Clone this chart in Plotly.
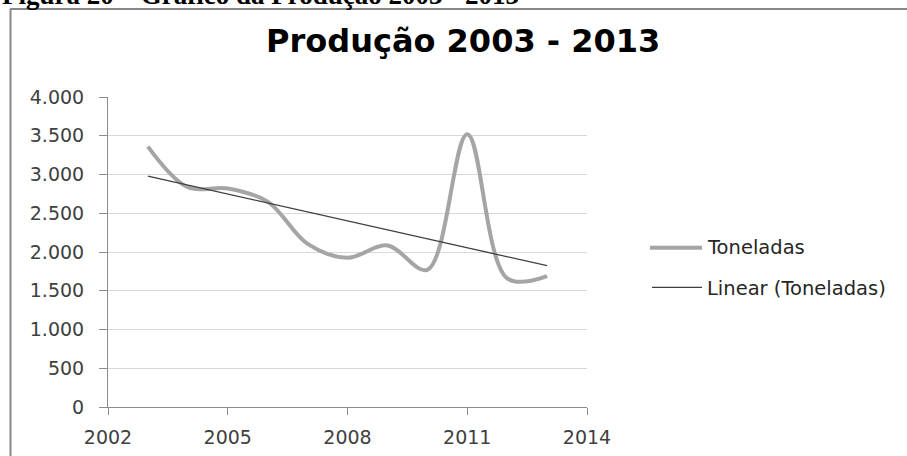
import numpy as np
import plotly.graph_objects as go

# Annual production (tonnes)
years = [2003, 2004, 2005, 2006, 2007, 2008, 2009, 2010, 2011, 2012, 2013]
toneladas = [3360, 2835, 2820, 2650, 2105, 1925, 2085, 1770, 3520, 1660, 1690]

x_ticks = [2002, 2005, 2008, 2011, 2014]
y_ticks = [0, 500, 1000, 1500, 2000, 2500, 3000, 3500, 4000]

series_name = "Toneladas"
trend_name = "Linear (Toneladas)"
chart_title = "Produção 2003 - 2013"
caption = "Figura 20 – Gráfico da Produção 2003 - 2013"

# Least-squares trend line over the same years
slope, intercept = np.polyfit(years, toneladas, 1)
trend = [slope * x + intercept for x in years]

W, H = 907, 456
ML, MR, MT, MB = 108, 320, 97, 49
PW, PH = W - ML - MR, H - MT - MB


def px(xp):
    return (xp - ML) / PW


def py(yp):
    return (H - MB - yp) / PH


SERIES_COLOR = "#a5a5a5"
TREND_COLOR = "#3f3f3f"
FONT = "DejaVu Sans"

fig = go.Figure()
fig.add_trace(go.Scatter(
    x=years, y=toneladas, name=series_name, mode="lines",
    line=dict(color=SERIES_COLOR, width=4, shape="spline", smoothing=1.0),
    showlegend=False,
))
fig.add_trace(go.Scatter(
    x=years, y=trend, name=trend_name, mode="lines",
    line=dict(color=TREND_COLOR, width=1.3),
    showlegend=False,
))

axis_font = dict(family=FONT, size=19, color="#404040")

fig.update_xaxes(
    range=[x_ticks[0], x_ticks[-1]], tickvals=x_ticks, tickformat="d",
    showgrid=False, zeroline=False,
    showline=True, linecolor="#8c8c8c", linewidth=1,
    ticks="outside", ticklen=7, tickcolor="#8c8c8c", tickwidth=1,
    ticklabelstandoff=6, tickfont=axis_font,
)
fig.update_yaxes(
    range=[y_ticks[0], y_ticks[-1]], tickvals=y_ticks, tickformat=",d",
    showgrid=True, gridcolor="#d9d9d9", gridwidth=1, zeroline=False,
    showline=True, linecolor="#8c8c8c", linewidth=1,
    ticks="outside", ticklen=8, tickcolor="#8c8c8c", tickwidth=1,
    ticklabelstandoff=11, tickfont=axis_font,
)

shapes = [
    # outer frame (left and top edges)
    dict(type="line", xref="paper", yref="paper",
         x0=px(10.5), x1=px(10.5), y0=py(9), y1=py(H + 2),
         line=dict(color="#888888", width=2)),
    dict(type="line", xref="paper", yref="paper",
         x0=px(10), x1=px(W + 2), y0=py(9), y1=py(9),
         line=dict(color="#888888", width=2)),
    # legend keys
    dict(type="line", xref="paper", yref="paper",
         x0=px(650), x1=px(702), y0=py(247.7), y1=py(247.7),
         line=dict(color=SERIES_COLOR, width=4)),
    dict(type="line", xref="paper", yref="paper",
         x0=px(652), x1=px(702), y0=py(287.3), y1=py(287.3),
         line=dict(color=TREND_COLOR, width=1.3)),
]

annotations = [
    dict(text="<b>" + caption + "</b>", xref="paper", yref="paper",
         x=px(0), y=py(12), xanchor="left", yanchor="bottom", showarrow=False,
         font=dict(family="Liberation Serif", size=27, color="black")),
    dict(text="<b>" + chart_title + "</b>", xref="paper", yref="paper",
         x=px(463), y=py(62), xanchor="center", yanchor="bottom",
         showarrow=False, font=dict(family=FONT, size=32, color="black")),
    dict(text=series_name, xref="paper", yref="paper", x=px(705), y=py(247),
         xanchor="left", yanchor="middle", showarrow=False,
         font=dict(family=FONT, size=19.5, color="#262626")),
    dict(text=trend_name, xref="paper", yref="paper", x=px(705), y=py(288),
         xanchor="left", yanchor="middle", showarrow=False,
         font=dict(family=FONT, size=19.5, color="#262626")),
]

fig.update_layout(
    width=W, height=H,
    margin=dict(l=ML, r=MR, t=MT, b=MB, autoexpand=False),
    paper_bgcolor="white", plot_bgcolor="white",
    separators=",.",
    shapes=shapes, annotations=annotations,
    showlegend=False,
)

fig.write_html("out.html")
